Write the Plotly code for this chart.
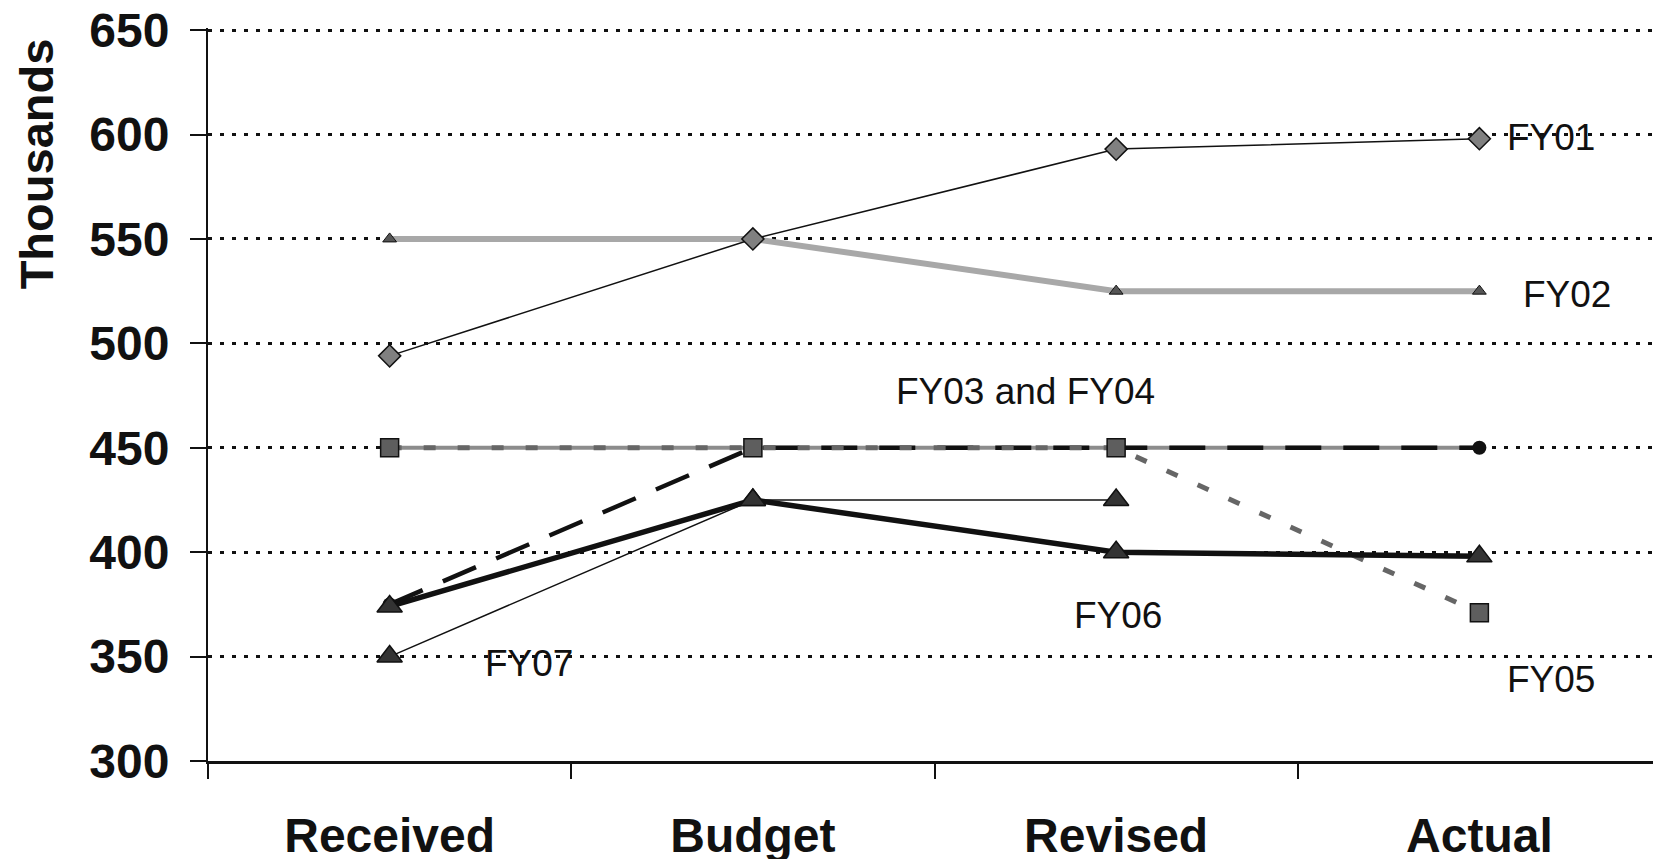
import plotly.graph_objects as go

# data
categories = ['Received', 'Budget', 'Revised', 'Actual']
fy01 = [494, 550, 593, 598]
fy02 = [550, 550, 525, 525]
fy03 = [450, 450, 450, 450]
fy04 = [375, 450, 450, 450]
fy05 = [450, 450, 450, 371]
fy06 = [374, 425, 400, 398]
fy07 = [350, 425, 425, None]
y_ticks = [300, 350, 400, 450, 500, 550, 600, 650]

FONT = 'Arial, Liberation Sans, sans-serif'

fig = go.Figure()

# FY02 - light gray thick line, small triangles
fig.add_trace(go.Scatter(x=categories, y=fy02, mode='lines+markers', name='FY02',
                         line=dict(color='#a8a8a8', width=6),
                         marker=dict(symbol='triangle-up', size=12, color='#555555',
                                     line=dict(color='#111111', width=1))))
# FY01 - thin black line, gray diamonds
fig.add_trace(go.Scatter(x=categories, y=fy01, mode='lines+markers', name='FY01',
                         line=dict(color='#111111', width=1.5),
                         marker=dict(symbol='diamond', size=17, color='#808080',
                                     line=dict(color='#111111', width=1.5))))
# FY03 - gray flat line
fig.add_trace(go.Scatter(x=categories, y=fy03, mode='lines', name='FY03',
                         line=dict(color='#8c8c8c', width=4)))
# FY04 - black long dashes, circles
fig.add_trace(go.Scatter(x=categories, y=fy04, mode='lines+markers', name='FY04',
                         line=dict(color='#111111', width=4.5, dash='36px,22px'),
                         marker=dict(symbol='circle', size=14, color='#111111')))
# FY05 - gray dotted, squares
fig.add_trace(go.Scatter(x=categories, y=fy05, mode='lines+markers', name='FY05',
                         line=dict(color='#666666', width=5, dash='12px,22px'),
                         marker=dict(symbol='square', size=18, color='#5e5e5e',
                                     line=dict(color='#111111', width=1.5))))
# FY07 - thin black line, triangles
fig.add_trace(go.Scatter(x=categories, y=fy07, mode='lines+markers', name='FY07',
                         line=dict(color='#111111', width=1.5),
                         marker=dict(symbol='triangle-up', size=22, color='#333333',
                                     line=dict(color='#111111', width=1.5))))
# FY06 - thick black line, triangles
fig.add_trace(go.Scatter(x=categories, y=fy06, mode='lines+markers', name='FY06',
                         line=dict(color='#111111', width=5.5),
                         marker=dict(symbol='triangle-up', size=22, color='#333333',
                                     line=dict(color='#111111', width=1.5))))

label_font = dict(family=FONT, size=37, color='#111111')
labels = [
    ('FY01', 'Actual', 598.5, 26),
    ('FY02', 'Actual', 523.5, 42),
    ('FY03 and FY04', 'Revised', 477, -222),
    ('FY07', 'Received', 346.5, 93),
    ('FY06', 'Revised', 369.5, -44),
    ('FY05', 'Actual', 339, 26),
]
for text, xc, yv, shift in labels:
    fig.add_annotation(x=xc, y=yv, text=text, showarrow=False, xanchor='left',
                       yanchor='middle', xshift=shift, font=label_font)

fig.add_annotation(xref='paper', yref='paper', x=0, y=0.814, xshift=-172,
                   text='<b>Thousands</b>', textangle=-90, showarrow=False,
                   xanchor='center', yanchor='middle',
                   font=dict(family=FONT, size=47, color='#111111'))

fig.update_xaxes(type='category', range=[-0.5, 3.5], tickson='boundaries',
                 ticks='outside', ticklen=15, tickwidth=2, tickcolor='#111111',
                 showline=True, linecolor='#111111', linewidth=2.5,
                 showgrid=False, zeroline=False, ticklabelstandoff=31, automargin=False,
                 tickfont=dict(family=FONT, size=48, color='#111111', weight='bold'))
# range runs 1 unit past 650 so the top dotted gridline is drawn
fig.update_yaxes(range=[300, 651], tickvals=y_ticks, ticks='outside', ticklen=16,
                 tickwidth=2, tickcolor='#111111', showline=True,
                 linecolor='#111111', linewidth=2, zeroline=False, automargin=False,
                 ticklabelstandoff=11, ticklabeloverflow='allow',
                 showgrid=True, gridcolor='#111111', gridwidth=2.5, griddash='4px,8px',
                 tickfont=dict(family=FONT, size=48, color='#111111', weight='bold'))

# page body adds an 8px offset, so the figure is 8px smaller on each side
fig.update_layout(width=1653, height=851, showlegend=False,
                  plot_bgcolor='white', paper_bgcolor='white',
                  margin=dict(l=200, r=0, t=20, b=98))

fig.write_html('out.html')
